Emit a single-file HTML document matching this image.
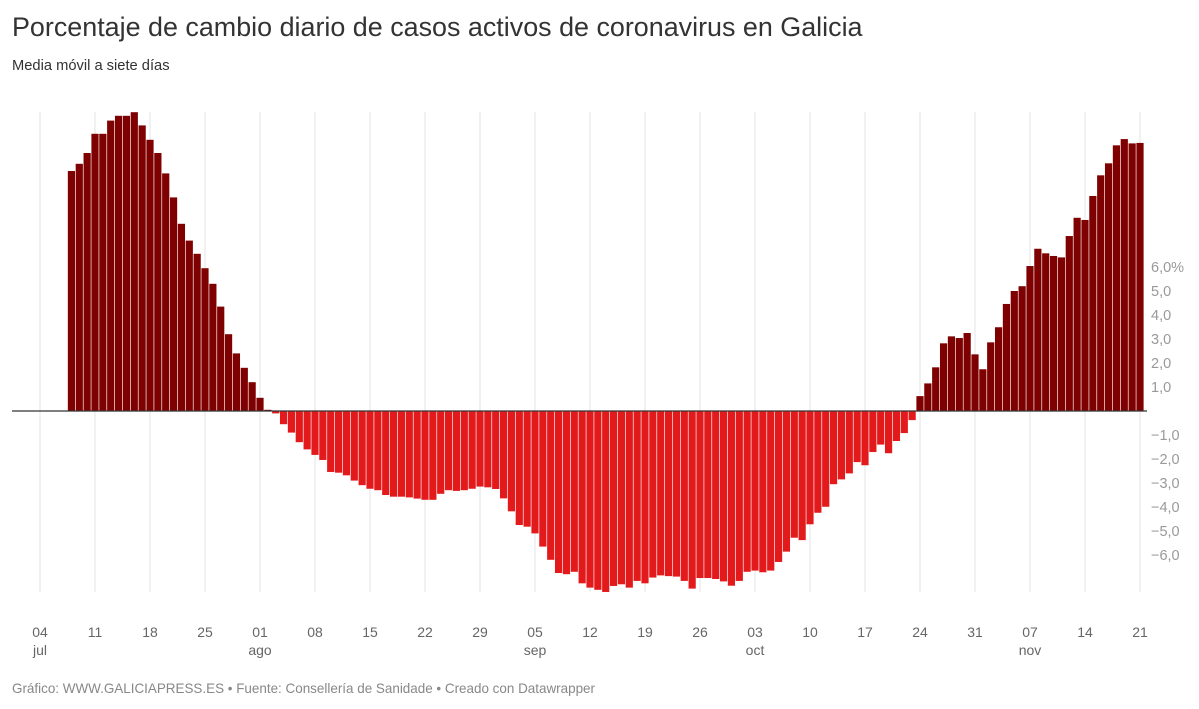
<!DOCTYPE html>
<html><head><meta charset="utf-8">
<style>
body{margin:0;background:#fff;font-family:"Liberation Sans",sans-serif;}
#wrap{position:relative;width:1199px;height:709px;overflow:hidden;}
h1{position:absolute;left:12px;top:12px;margin:0;font-size:26.9px;font-weight:normal;color:#333;}
.sub{position:absolute;left:12px;top:58px;font-size:14.7px;color:#333;}
.foot{position:absolute;left:12px;top:681px;font-size:13.45px;color:#888;}
svg{position:absolute;left:0;top:0;}
</style></head><body>
<div id="wrap">
<h1>Porcentaje de cambio diario de casos activos de coronavirus en Galicia</h1>
<div class="sub">Media móvil a siete días</div>
<svg id="chart" width="1199" height="709"></svg>
<div class="foot">Gráfico: WWW.GALICIAPRESS.ES • Fuente: Consellería de Sanidade • Creado con Datawrapper</div>
</div>
<script>
// day offset (from 04 jul) of first value
const startDay = 4;
const values = [
10.0,10.3,10.75,11.55,11.55,12.1,12.3,12.3,12.45,11.9,11.3,10.75,9.9,8.9,7.8,7.1,6.55,5.95,5.3,4.35,3.2,2.4,1.8,1.2,0.55,0.05,
-0.1,-0.55,-0.9,-1.3,-1.6,-1.83,-2.04,-2.54,-2.57,-2.68,-2.9,-3.09,-3.24,-3.3,-3.5,-3.57,-3.57,-3.6,-3.65,-3.7,-3.7,-3.45,-3.3,-3.33,-3.3,-3.24,-3.15,-3.18,-3.25,-3.64,-4.18,-4.75,-4.82,-5.1,
-5.65,-6.2,-6.75,-6.8,-6.7,-7.18,-7.36,-7.45,-7.54,-7.29,-7.22,-7.36,-7.08,-7.18,-6.94,-6.85,-6.88,-6.9,-7.08,-7.4,-6.96,-6.96,-7.0,-7.1,-7.28,-7.08,-6.7,-6.65,-6.72,-6.65,-6.29,-5.86,-5.28,-5.38,-4.72,-4.24,-3.99,-3.05,-2.85,-2.6,-2.13,-2.26,-1.71,-1.4,-1.76,-1.25,-0.92,-0.38,
0.62,1.15,1.82,2.82,3.11,3.04,3.25,2.36,1.74,2.86,3.49,4.46,5.0,5.2,6.04,6.76,6.57,6.46,6.4,7.29,8.05,7.96,8.96,9.82,10.32,11.07,11.33,11.15,11.17];
const xTickDays = [0,7,14,21,28,35,42,49,56,63,70,77,84,91,98,105,112,119,126,133,140];
const xTickLabels = ["04","11","18","25","01","08","15","22","29","05","12","19","26","03","10","17","24","31","07","14","21"];
const monthDays = [0,28,63,91,126];
const monthLabels = ["jul","ago","sep","oct","nov"];
const yTicks = [6,5,4,3,2,1,-1,-2,-3,-4,-5,-6];

const NS="http://www.w3.org/2000/svg";
const svg=document.getElementById('chart');
const x=d=>40+d*(1100/140);
const y=v=>411-v*24;
function mk(t,a){const e=document.createElementNS(NS,t);for(const k in a)e.setAttribute(k,a[k]);svg.appendChild(e);return e;}
xTickDays.forEach((d,i)=>{
  const g=mk('line',{x1:x(d),x2:x(d),y1:112,y2:592,stroke:'#e3e3e3','stroke-width':1});
  
  
  const t=mk('text',{x:x(d),y:637,'text-anchor':'middle','font-size':14,fill:'#666','font-family':'Liberation Sans, sans-serif'});
  t.textContent=xTickLabels[i];
  
  
});
monthDays.forEach((d,i)=>{
  const t=mk('text',{x:x(d),y:655,'text-anchor':'middle','font-size':14,fill:'#666','font-family':'Liberation Sans, sans-serif'});
  t.textContent=monthLabels[i];
  
  
});
values.forEach((v,i)=>{
  const d=startDay+i, cx=x(d);
  const top=v>=0?y(v):y(0), h=Math.abs(y(v)-y(0));
  const r=mk('rect',{x:cx-3.6,y:top,width:7.2,height:Math.max(h,0.5),fill:v>=0?'#7f0000':'#e31a1c'});
  
  
});
const base=mk('line',{x1:12,x2:1147,y1:y(0),y2:y(0),stroke:'#333','stroke-width':1.3});


yTicks.forEach(v=>{
  const s=(v<0?'\u2212':'')+Math.abs(v).toFixed(1).replace('.',',')+(v===6?'%':'');
  const t=mk('text',{x:1151,y:y(v)+5,'text-anchor':'start','font-size':14.5,fill:'#999','font-family':'Liberation Sans, sans-serif'});
  t.textContent=s;
  
  
});
</script>
</body></html>
